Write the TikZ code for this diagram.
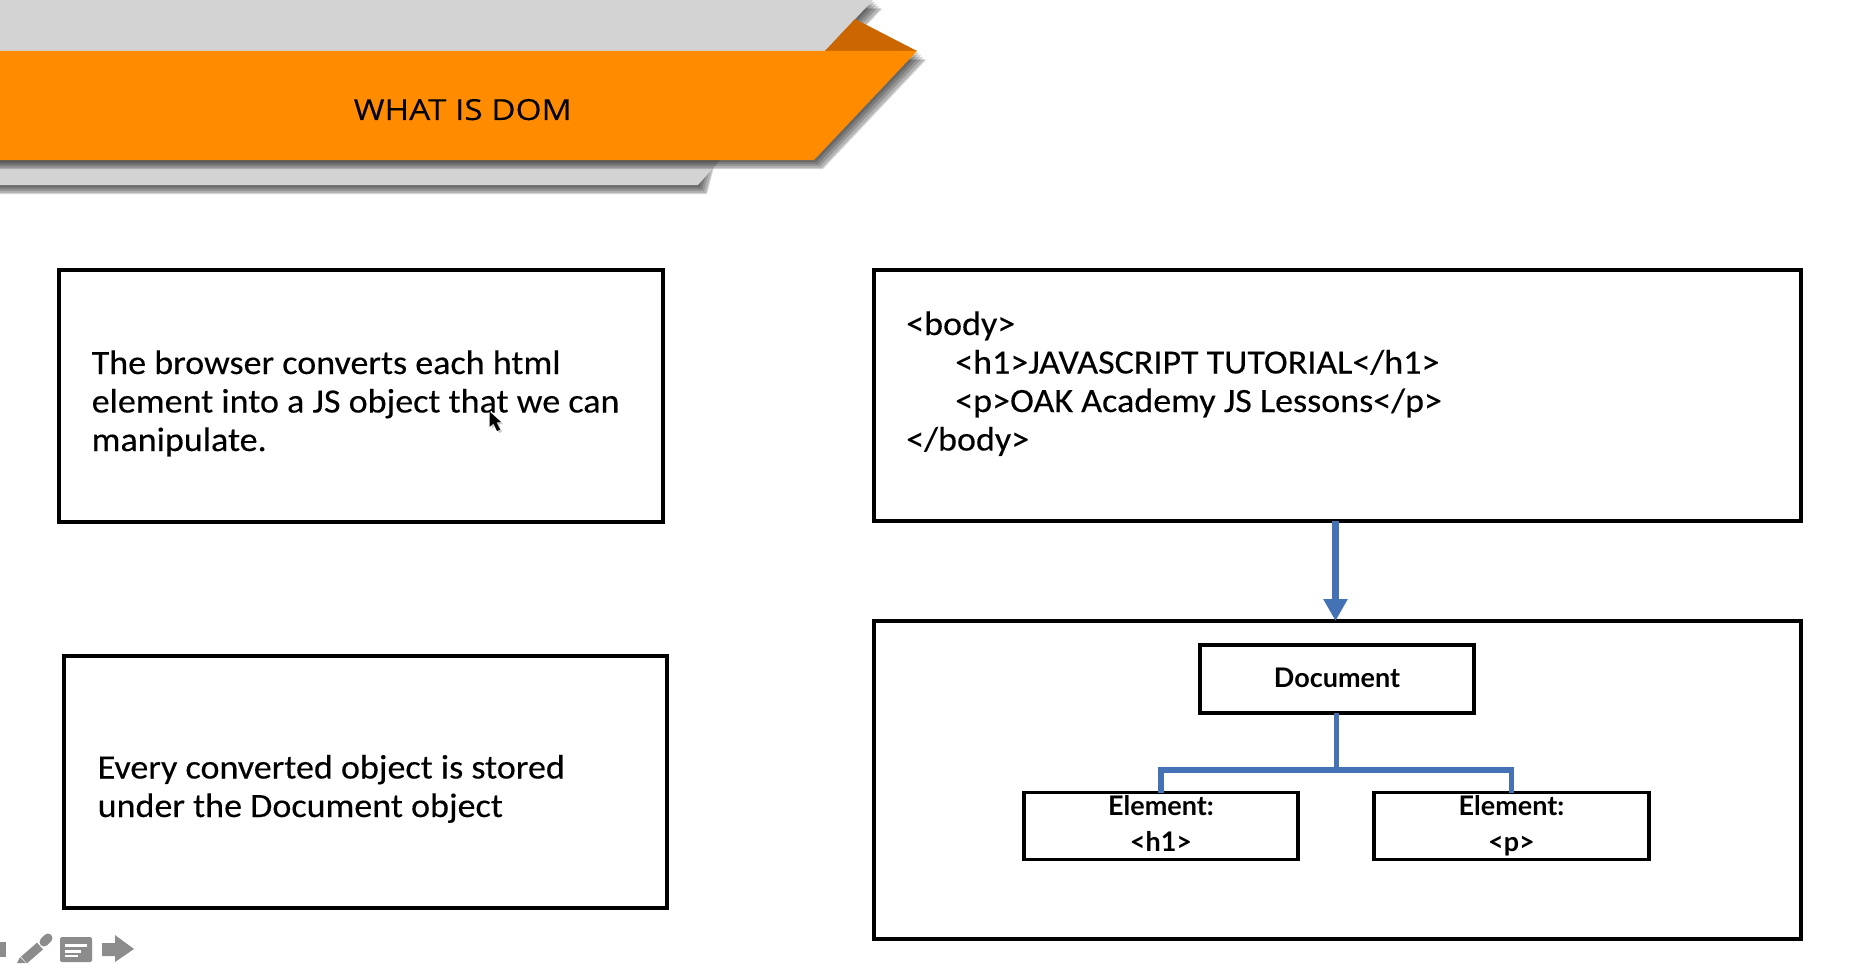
\documentclass[tikz,border=0pt]{standalone}
\usepackage{fontspec}
\setmainfont{Carlito}[FakeStretch=1.06,FakeBold=0.25]
\newfontfamily\titlefont{Open Sans}[FakeStretch=1.15,FakeBold=0.2]
\newfontfamily\chartfont{Lato}
\usetikzlibrary{arrows.meta}
\definecolor{bluelink}{HTML}{4472B4}
\definecolor{bannerorange}{HTML}{FF8C00}
\definecolor{bannerdark}{HTML}{CC6600}
\definecolor{bannergray}{HTML}{D3D3D3}
\definecolor{icongray}{HTML}{8C8C8C}
\tikzset{
  x=1pt,y=-1pt,
  boxthick/.style={draw=black,line width=3.5pt,fill=white,outer sep=0pt,inner sep=0pt},
  chartbox/.style={boxthick,line width=3.8pt,minimum height=67pt,font=\chartfont\bfseries\fontsize{27}{36}\selectfont,align=center},
  bodytext/.style={anchor=base west,align=left,inner sep=0pt,font=\fontsize{34}{38.5}\selectfont},
  linkline/.style={draw=bluelink,line width=5.5pt},
  softshadow/.style={fill=black,opacity=.16},
}
\newcommand{\softshadow}[1]{%
  \foreach \k in {2,4,6,8,9}{\fill[softshadow,shift={(\k,\k)}] #1;}}
\begin{document}
\begin{tikzpicture}
\useasboundingbox (0,0) rectangle (1851,963);
\fill[white] (0,0) rectangle (1851,963);
% banner
\begin{scope}
\clip (0,0) rectangle (1851,963);
\softshadow{(-20,0) -- (873,0) -- (825,51) -- (-20,51) -- cycle}
\fill[bannergray] (0,0) -- (873,0) -- (825,51) -- (0,51) -- cycle;
\fill[bannerdark] (825,51) -- (855,19) -- (917,51) -- cycle;
\softshadow{(-20,100) -- (720,100) -- (698,185) -- (-20,185) -- cycle}
\fill[bannergray] (0,150) -- (729,150) -- (698,185) -- (0,185) -- cycle;
\softshadow{(-20,51) -- (917,51) -- (814,160) -- (-20,160) -- cycle}
\fill[bannerorange] (0,51) -- (917,51) -- (814,160) -- (0,160) -- cycle;
\end{scope}
\node[anchor=base west,inner sep=0pt,font=\titlefont\fontsize{29}{34}\selectfont] (title) at (353.5,120) {WHAT IS DOM};
% left boxes
\node[boxthick,minimum width=604pt,minimum height=252pt] (leftA) at (361,396) {};
\node[bodytext] (leftAtext) at (91.5,451) {The browser converts each html\\element into a JS object that we can\\manipulate.};
\node[boxthick,minimum width=603pt,minimum height=252pt] (leftB) at (365.5,782) {};
\node[bodytext] (leftBtext) at (97.5,817) {Every converted object is stored\\under the Document object};
% right boxes
\node[boxthick,minimum width=927pt,minimum height=251pt] (code) at (1337.5,395.5) {};
\node[bodytext] (codetext) at (906,450.5) {<body>\\\hspace{49pt}<h1>JAVASCRIPT TUTORIAL</h1>\\\hspace{49pt}<p>OAK Academy JS Lessons</p>\\</body>};
\node[boxthick,minimum width=927pt,minimum height=318pt] (tree) at (1337.5,780) {};
\node[chartbox,minimum width=274pt,minimum height=68.5pt] (doc) at (1337,679) {\raisebox{2pt}{Document}};
\node[chartbox,minimum width=274.5pt] (elA) at (1161,826) {Element:\\<h1>\vphantom{<p>}};
\node[chartbox,minimum width=274.5pt] (elB) at (1511.5,826) {Element:\\<p>\vphantom{<h1>}};
% connectors
\draw[bluelink,line width=7pt,-{Triangle[width=23pt,length=22pt]}] ([xshift=-2pt]code.south) -- ([xshift=-2pt]tree.north);
\coordinate (junction) at (1336.3,770);
\draw[linkline] ([xshift=-.7pt]doc.south) -- (junction);
\draw[linkline] (elA.north) |- (junction);
\draw[linkline] (elB.north) |- (junction);
% cursor
\fill[black,opacity=.2,shift={(2,2)}] (489.5,411.5) -- (489.5,427) -- (493.5,423.5) -- (497,431) -- (500,429.5) -- (496.5,422.5) -- (501,422) -- cycle;
\fill[black] (489.5,411.5) -- (489.5,427) -- (493.5,423.5) -- (497,431) -- (500,429.5) -- (496.5,422.5) -- (501,422) -- cycle;
% player icons
\fill[icongray] (0,942) rectangle (6,957);
\draw[icongray,line width=9pt,line cap=round] (48,938) -- (44,942);
\draw[icongray,line width=9pt] (40,946) -- (24,960);
\fill[icongray] (17,963) -- (20,957) -- (26,963) -- cycle;
\fill[icongray,rounded corners=1.5pt] (60,937) rectangle (92,962);
\fill[white] (65,944) rectangle (87,947);
\fill[white] (65,950) rectangle (81,952.5);
\fill[white] (65,955) rectangle (78,957);
\fill[icongray] (102,943) -- (115,943) -- (115,935) -- (134,949) -- (115,962) -- (115,956) -- (102,956) -- cycle;
\end{tikzpicture}
\end{document}
